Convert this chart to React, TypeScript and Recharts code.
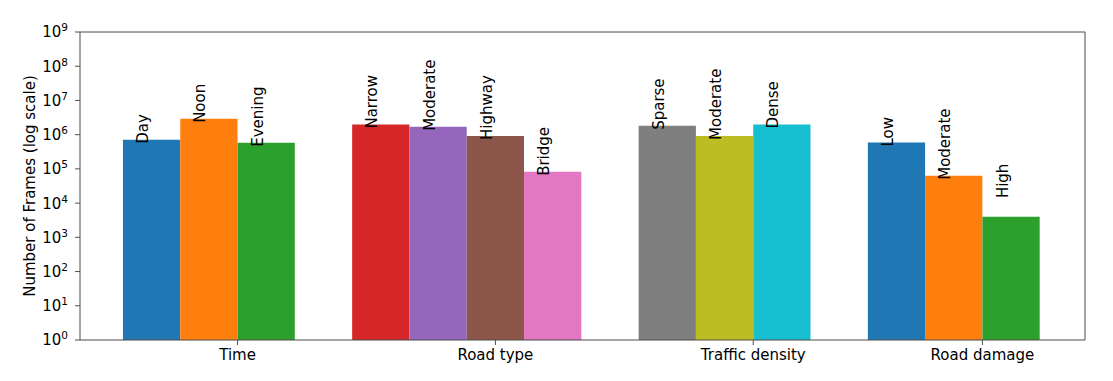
import {
  BarChart,
  Bar,
  XAxis,
  YAxis,
  Cell,
  LabelList,
  ReferenceLine,
} from "recharts";

// groups on the x axis and how many bars each one has
const categories = ["Time", "Road type", "Traffic density", "Road damage"];
const groupSizes = [3, 4, 3, 3];

// one entry per bar, in drawing order
const barNames = [
  "Day", "Noon", "Evening",
  "Narrow", "Moderate", "Highway", "Bridge",
  "Sparse", "Moderate", "Dense",
  "Low", "Moderate", "High",
];
const frames = [
  710000, 2900000, 580000,
  1970000, 1690000, 920000, 82000,
  1810000, 920000, 1970000,
  590000, 63000, 4000,
];
const barColors = [
  "#1f77b4", "#ff7f0e", "#2ca02c",
  "#d62728", "#9467bd", "#8c564b", "#e377c2",
  "#7f7f7f", "#bcbd22", "#17becf",
  "#1f77b4", "#ff7f0e", "#2ca02c",
];
const yTicks = [1, 10, 100, 1e3, 1e4, 1e5, 1e6, 1e7, 1e8, 1e9];

const FONT = "DejaVu Sans";
const AXIS = "#4d4d4d";
const W = 1105;
const H = 373;
const margin = { top: 24, right: 28, bottom: 1, left: 0 };
const yAxisWidth = 72;
const xAxisHeight = 40;
const xMin = -1.25;
const xMax = 16.29;
const plotW = W - margin.left - margin.right - yAxisWidth;
const plotH = H - margin.top - margin.bottom - xAxisHeight;
// a hair under one slot, otherwise recharts falls back to 90% of the band
const barSize = plotW / (xMax - xMin) - 0.05;

// bars sit on integer slots, with one empty slot between groups
const data: { pos: number; name: string; frames: number }[] = [];
const categoryTicks: number[] = [];
let k = 0;
groupSizes.forEach((n, g) => {
  categoryTicks.push(k + g + n / 2);
  for (let i = 0; i < n; i++) {
    data.push({ pos: k + g, name: barNames[k], frames: frames[k] });
    k++;
  }
});

const yPix = (v: number) => margin.top + ((9 - Math.log10(v)) / 9) * plotH;

const YTick = ({ x, y, payload }: any) => {
  const exp = Math.round(Math.log10(payload.value));
  return (
    <text x={x} y={y} dy="0.36em" textAnchor="end" fontSize={15} fontFamily={FONT} fill="#000">
      <tspan>10</tspan>
      <tspan dy={-6} fontSize={10.5}>{exp}</tspan>
    </text>
  );
};

const BarLabel = (props: any) => {
  const { x, y, width, value } = props;
  const tx = Number(x) + Number(width) / 2 - 3.5;
  const ty = Math.min(Number(y) + 4, yPix(14000));
  return (
    <text
      x={tx}
      y={ty}
      transform={`rotate(-90 ${tx} ${ty})`}
      fontSize={15}
      fontFamily={FONT}
      fill="#000"
    >
      {value}
    </text>
  );
};

const YLabel = (props: any) => {
  const vb = props.viewBox || { x: 0, y: margin.top, height: plotH };
  const cx = 22;
  const cy = vb.y + vb.height / 2;
  return (
    <text
      x={cx}
      y={cy}
      transform={`rotate(-90 ${cx} ${cy})`}
      textAnchor="middle"
      dominantBaseline="central"
      fontSize={15}
      fontFamily={FONT}
      fill="#000"
    >
      Number of Frames (log scale)
    </text>
  );
};

export default function App() {
  return (
    <BarChart
      width={W}
      height={H}
      data={data}
      margin={margin}
      barCategoryGap={0}
      barGap={0}
    >
      <XAxis
        type="number"
        dataKey="pos"
        domain={[xMin, xMax]}
        allowDataOverflow
        ticks={categoryTicks}
        interval={0}
        height={xAxisHeight}
        tickFormatter={(v: number) => categories[categoryTicks.indexOf(v)] ?? ""}
        tick={{ fontSize: 15, fontFamily: FONT, fill: "#000" }}
        tickSize={5}
        tickMargin={4}
        stroke={AXIS}
      />
      <YAxis
        type="number"
        scale="log"
        domain={[1, 1e9]}
        allowDataOverflow
        ticks={yTicks}
        interval={0}
        width={yAxisWidth}
        tick={<YTick />}
        tickSize={5}
        tickMargin={7}
        stroke={AXIS}
        label={YLabel}
      />
      <ReferenceLine y={1e9} stroke={AXIS} />
      <ReferenceLine x={xMax} stroke={AXIS} />
      <Bar dataKey="frames" barSize={barSize} isAnimationActive={false}>
        {data.map((d, i) => (
          <Cell key={d.pos} fill={barColors[i]} />
        ))}
        <LabelList dataKey="name" content={BarLabel} />
      </Bar>
    </BarChart>
  );
}
